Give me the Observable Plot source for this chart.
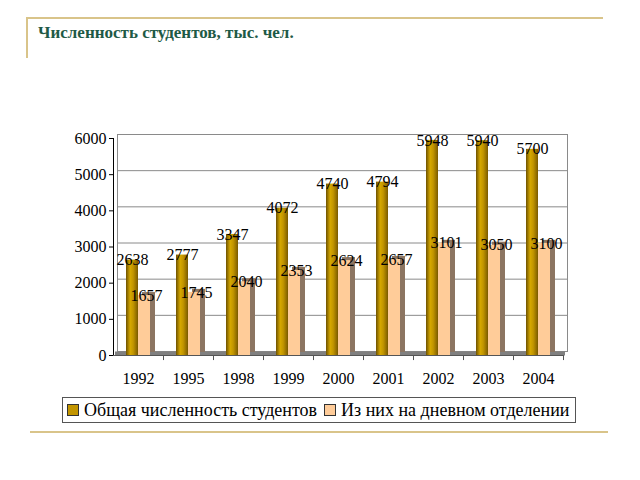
<!DOCTYPE html>
<html><head><meta charset="utf-8">
<script src="https://cdn.jsdelivr.net/npm/d3@7"></script>
<script src="https://cdn.jsdelivr.net/npm/@observablehq/plot@0.6"></script>
<style>
body{margin:0;background:#fff;}
#wrap{position:relative;width:640px;height:480px;overflow:hidden;font-family:"Liberation Serif","Times New Roman",Times,serif;}
.line{position:absolute;background:#d9c48a;}
#title{position:absolute;left:38px;top:24px;font-weight:bold;font-size:17px;line-height:18px;color:#1e5a46;}
#chart{position:absolute;left:0;top:0;}
#chart svg text{font-family:"Liberation Serif","Times New Roman",Times,serif !important;}
#legend{position:absolute;left:62px;top:397px;width:512px;height:24px;border:1px solid #555;background:#fff;display:flex;align-items:center;font-size:18px;color:#000;white-space:nowrap;}
.sw{display:inline-block;width:10px;height:10px;border:1px solid #333;margin:0 5px 0 4px;}
.sw + span{margin-right:3px;}
</style></head>
<body><div id="wrap">
<div class="line" style="left:26px;top:17px;width:577px;height:2px;"></div>
<div class="line" style="left:26px;top:17px;width:2px;height:41px;"></div>
<div class="line" style="left:30px;top:431px;width:578px;height:2px;"></div>
<div id="title">Численность студентов, тыс. чел.</div>
<div id="chart"></div>
<div id="legend"></div>
</div>
<script>
const years = ["1992","1995","1998","1999","2000","2001","2002","2003","2004"];
const totalStudents = [2638,2777,3347,4072,4740,4794,5948,5940,5700];
const dayStudents = [1657,1745,2040,2353,2624,2657,3101,3050,3100];
const yTicks = [0,1000,2000,3000,4000,5000,6000];
const seriesNames = ["Общая численность студентов","Из них на дневном отделении"];
const seriesColors = ["#c29500","#ffcc99"];

const total = years.map((y,i)=>({year:y, value:totalStudents[i]}));
const day = years.map((y,i)=>({year:y, value:dayStudents[i]}));
const font = "Liberation Serif";

const chart = Plot.plot({
  width:640, height:390,
  marginLeft:113, marginRight:77, marginTop:138, marginBottom:35,
  style:{fontFamily:font, fontSize:"16px", color:"#000", background:"transparent"},
  x:{type:"band", domain:years, padding:0, tickSize:0, tickPadding:17, label:null},
  y:{domain:[0,6000], ticks:yTicks, tickSize:4, tickPadding:3, label:null, line:true, tickFormat:d=>String(d)},
  marks:[
    Plot.frame({dx:4, dy:-4, stroke:"#8a8a8a"}),
    Plot.ruleY(yTicks.filter(d=>d>0), {dx:4, dy:-4, stroke:"#8a8a8a"}),
    Plot.ruleY([0], {dx:2, dy:-2, stroke:"#808080", strokeWidth:4}),
    Plot.ruleY([0], {stroke:"#555"}),
    Plot.ruleX(years, {x:d=>d, dx:25, y1:0, y2:-140, stroke:"#555"}),
    Plot.barY(total, {x:"year", y:"value", insetLeft:13, insetRight:25, fill:"url(#goldGrad)"}),
    Plot.barY(day, {x:"year", y:"value", insetLeft:25, insetRight:12, dx:4, dy:-3, fill:"#8c7562"}),
    Plot.barY(day, {x:"year", y:"value", insetLeft:25, insetRight:13, fill:seriesColors[1]}),
    Plot.text(total, {x:"year", y:"value", text:d=>String(d.value), dx:-6, fill:"#000", fontSize:16}),
    Plot.text(day, {x:"year", y:"value", text:d=>String(d.value), dx:8, fill:"#000", fontSize:16})
  ]
});
const defs = d3.select(chart).insert("defs", ":first-child");
const g = defs.append("linearGradient").attr("id","goldGrad").attr("x1","0").attr("x2","1").attr("y1","0").attr("y2","0");
[["0","#6e5200"],["0.35","#d6a800"],["0.6","#c29500"],["1","#7a5a00"]].forEach(([o,c])=>g.append("stop").attr("offset",o).attr("stop-color",c));
document.getElementById("chart").appendChild(chart);

const leg = document.getElementById("legend");
seriesNames.forEach((n,i)=>{
  const s=document.createElement("span"); s.className="sw"; s.style.background=seriesColors[i];
  leg.appendChild(s);
  const t=document.createElement("span"); t.textContent=n; leg.appendChild(t);
});
</script>
</body></html>
